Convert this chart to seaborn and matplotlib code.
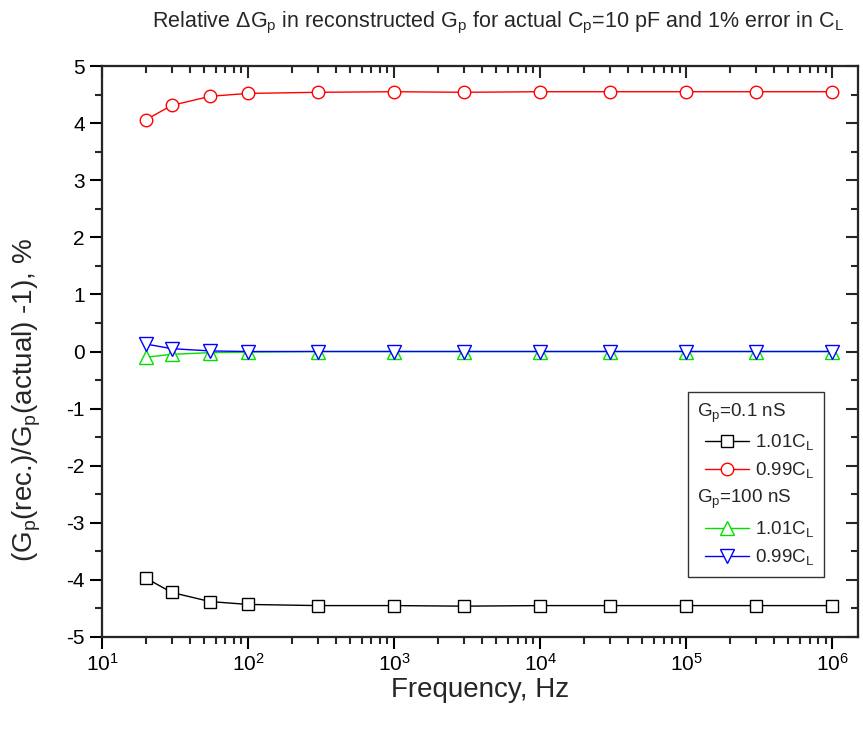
import numpy as np
import pandas as pd
import matplotlib
matplotlib.use("Agg")
import matplotlib.pyplot as plt
import seaborn as sns
from matplotlib.lines import Line2D
from matplotlib.legend_handler import HandlerLine2D
from matplotlib.ticker import LogLocator, MultipleLocator, NullFormatter

freq = [20, 30, 55, 100, 300, 1e3, 3e3, 1e4, 3e4, 1e5, 3e5, 1e6]
g01_101 = [-3.97, -4.22, -4.38, -4.43, -4.45, -4.45, -4.46, -4.45, -4.45, -4.45, -4.45, -4.45]
g01_099 = [4.06, 4.31, 4.47, 4.52, 4.54, 4.55, 4.54, 4.55, 4.55, 4.55, 4.55, 4.55]
g100_101 = [-0.10, -0.05, -0.02, -0.01, 0.0, 0.0, 0.0, 0.0, 0.0, 0.0, 0.0, 0.0]
g100_099 = [0.13, 0.05, 0.01, 0.0, 0.0, 0.0, 0.0, 0.0, 0.0, 0.0, 0.0, 0.0]

series = [
    ("1.01C$_L$", g01_101, "black", "s", 8),
    ("0.99C$_L$", g01_099, "#ff0000", "o", 9),
    ("1.01C$_L$", g100_101, "#00e000", "^", 10),
    ("0.99C$_L$", g100_099, "#0000ff", "v", 10),
]

sns.set_theme(style="ticks")
plt.rcParams["font.family"] = ["Liberation Sans", "DejaVu Sans"]
plt.rcParams["mathtext.fontset"] = "custom"
plt.rcParams["mathtext.rm"] = "Liberation Sans"
plt.rcParams["mathtext.it"] = "Liberation Sans"
plt.rcParams["mathtext.default"] = "regular"
plt.rcParams["axes.unicode_minus"] = False

fig = plt.figure(figsize=(8.63, 7.32), dpi=100)
ax = fig.add_axes([0.1182, 0.1298, 0.9942 - 0.1182, 0.9098 - 0.1298])

handles = []
for name, vals, col, mk, ms in series:
    df = pd.DataFrame({"f": freq, "v": vals})
    sns.lineplot(data=df, x="f", y="v", ax=ax, color=col, linewidth=1.0,
                 marker=mk, markersize=ms, markerfacecolor="white",
                 markeredgecolor=col, markeredgewidth=1.0, legend=False)
    handles.append(Line2D([], [], color=col, linewidth=1.0, marker=mk, markersize=ms,
                          markerfacecolor="white", markeredgecolor=col, markeredgewidth=1.0))

ax.set_xscale("log")
ax.set_xlim(10, 1.5e6)
ax.set_ylim(-5, 5)
ax.yaxis.set_major_locator(MultipleLocator(1))
ax.yaxis.set_minor_locator(MultipleLocator(0.5))
ax.xaxis.set_major_locator(LogLocator(base=10, numticks=10))
ax.xaxis.set_minor_locator(LogLocator(base=10, subs=np.arange(2, 10), numticks=20))
ax.xaxis.set_minor_formatter(NullFormatter())

for s in ax.spines.values():
    s.set_linewidth(1.5)
    s.set_color("black")
ax.tick_params(which="major", direction="out", length=8.5, width=1.5, labelsize=15, colors="black")
ax.tick_params(which="minor", direction="out", length=5, width=1.5)
ax.tick_params(axis="x", which="major", pad=3)
ax.tick_params(axis="y", which="major", pad=4)

# top and right inward ticks
axt = ax.twiny()
axt.set_xscale("log")
axt.set_xlim(ax.get_xlim())
axt.xaxis.set_major_locator(LogLocator(base=10, numticks=10))
axt.xaxis.set_minor_locator(LogLocator(base=10, subs=np.arange(2, 10), numticks=20))
axt.tick_params(which="major", direction="in", length=8.5, width=1.5, labeltop=False)
axt.tick_params(which="minor", direction="in", length=5, width=1.5)
axr = ax.twinx()
axr.set_ylim(ax.get_ylim())
axr.yaxis.set_major_locator(MultipleLocator(1))
axr.yaxis.set_minor_locator(MultipleLocator(0.5))
axr.tick_params(which="major", direction="in", length=8.5, width=1.5, labelright=False)
axr.tick_params(which="minor", direction="in", length=5, width=1.5)
for a in (axt, axr):
    for s in a.spines.values():
        s.set_linewidth(1.5)

ax.set_xlabel("Frequency, Hz", fontsize=20)
ax.xaxis.set_label_coords(0.5, -0.07)
ax.set_ylabel("(G$_p$(rec.)/G$_p$(actual) -1), %", fontsize=20)
ax.yaxis.set_label_coords(-0.078, 0.415)

fig.text(0.577, 0.968, "Relative $\\Delta$G$_p$ in reconstructed G$_p$ for actual C$_p$=10 pF and 1% error in C$_L$",
         ha="center", va="center", fontsize=15.5)

blank = Line2D([], [], linestyle="none")
headers = ["G$_p$=0.1 nS", "G$_p$=100 nS"]
leg_handles = [blank, handles[0], handles[1], blank, handles[2], handles[3]]
leg_labels = [headers[0], "1.01C$_L$", "0.99C$_L$", headers[1], "1.01C$_L$", "0.99C$_L$"]
lfs = 13.5
leg = axr.legend(leg_handles, leg_labels, loc="upper right", bbox_to_anchor=(0.955, 0.429),
                 borderaxespad=0, fontsize=lfs, frameon=True, fancybox=False,
                 handlelength=2.75, handletextpad=0.35, labelspacing=0.42, borderpad=0.5,
                 handler_map={Line2D: HandlerLine2D(xpad=0.42)})
leg.get_frame().set_edgecolor("black")
leg.get_frame().set_linewidth(1.0)
for col in leg._legend_handle_box.get_children():
    for row in col.get_children():
        ch = row.get_children()
        if len(ch) == 2:
            da, ta = ch
            if ta._text.get_text() in headers:
                da.width = 0
                row.sep = 0

fig.savefig("out.png", dpi=100)
